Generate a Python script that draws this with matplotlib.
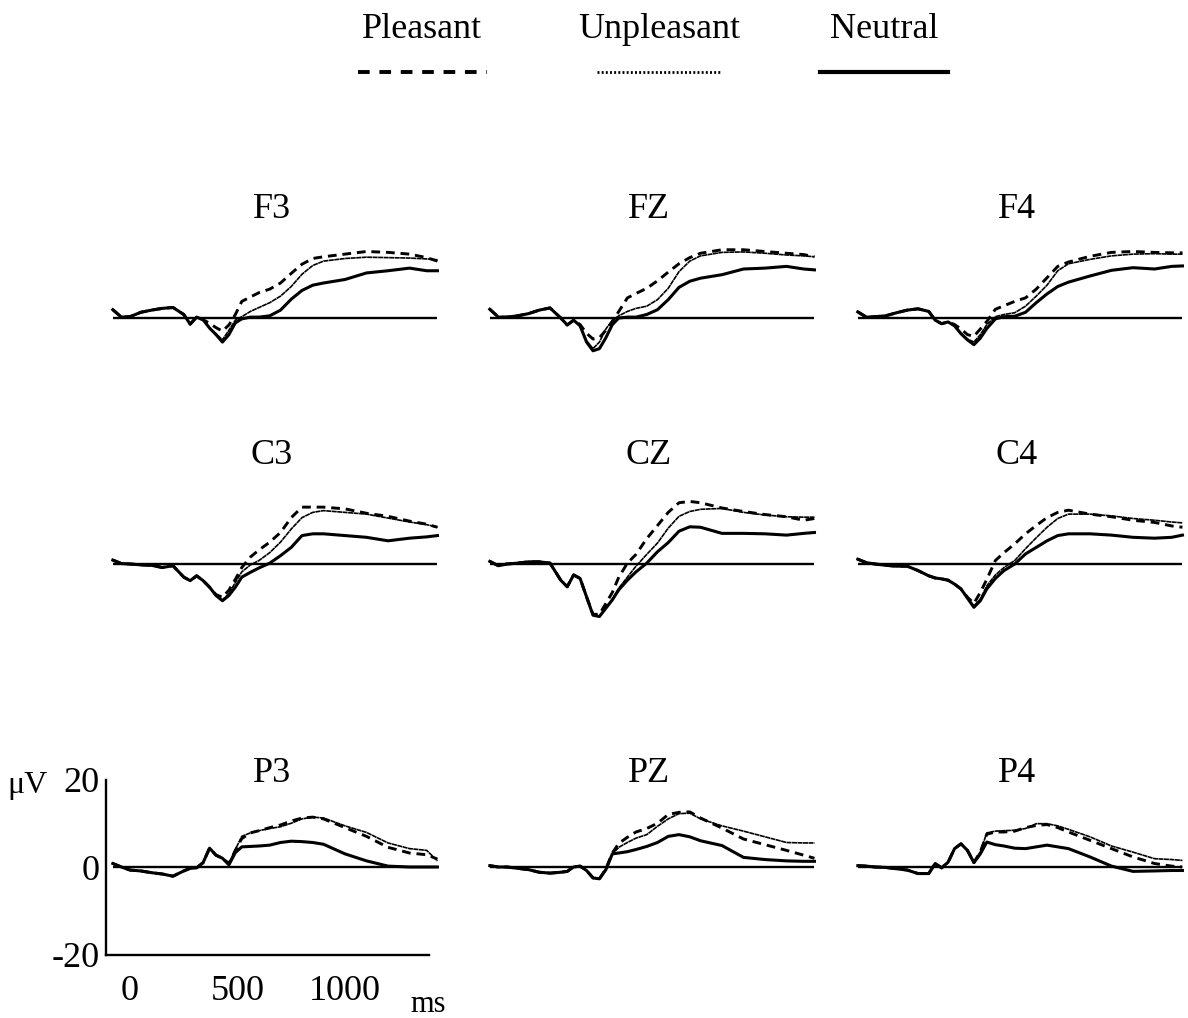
import numpy as np
import matplotlib.pyplot as plt
from matplotlib.lines import Line2D

plt.rcParams['font.family'] = ['Liberation Serif', 'DejaVu Serif']

W, H = 1188, 1018

# sample times (ms) shared by every trace
times = [-80, -40, 0, 50, 100, 150, 200, 250, 280, 310, 340, 370, 400, 430, 460, 490,
         520, 560, 600, 650, 700, 750, 800, 850, 900, 1000, 1100, 1200, 1300, 1380, 1430]

# amplitudes in microvolts
f3_pl = [1.9, 0.2, 0.3, 1.3, 1.8, 2.2, 2.4, 0.8, -1.4, 0.2, -0.4, -1.2, -2.2, -3.0, -1.6, 0.8,
         3.8, 4.8, 5.8, 6.6, 8.0, 10.2, 12.3, 13.6, 14.0, 14.6, 15.2, 15.0, 14.6, 13.8, 13.0]
f3_un = [1.9, 0.2, 0.3, 1.3, 1.8, 2.2, 2.4, 0.8, -1.4, 0.2, -0.4, -2.3, -3.6, -5.0, -2.8, -0.5,
         0.3, 1.5, 2.4, 3.5, 5.0, 7.2, 10.0, 12.0, 13.0, 13.6, 13.9, 13.8, 13.7, 13.5, 13.3]
f3_ne = [1.9, 0.2, 0.3, 1.3, 1.8, 2.2, 2.4, 0.8, -1.4, 0.2, -0.4, -2.3, -3.8, -5.5, -3.8, -1.1,
         -0.2, 0.2, 0.2, 0.5, 1.8, 4.3, 6.3, 7.5, 8.0, 8.8, 10.3, 10.8, 11.4, 10.8, 10.8]

fz_pl = [2.0, 0.2, 0.2, 0.5, 1.0, 1.8, 2.3, 0.0, -1.6, -0.5, -1.5, -3.5, -4.8, -4.5, -2.8, -0.8,
         1.5, 4.6, 5.6, 6.8, 8.5, 10.5, 12.4, 13.8, 14.8, 15.6, 15.6, 15.2, 14.8, 14.5, 14.0]
fz_un = [2.0, 0.2, 0.2, 0.5, 1.0, 1.8, 2.3, 0.0, -1.6, -0.5, -1.8, -5.2, -7.0, -5.5, -2.5, -0.5,
         0.5, 1.5, 2.2, 2.7, 4.2, 6.8, 10.6, 13.0, 14.2, 15.0, 15.1, 14.8, 14.4, 14.2, 14.0]
fz_ne = [2.0, 0.2, 0.2, 0.5, 1.0, 1.8, 2.3, 0.0, -1.6, -0.5, -1.8, -5.5, -7.5, -7.0, -4.5, -1.5,
         0.0, 0.2, 0.2, 0.8, 1.9, 4.2, 7.0, 8.4, 9.1, 9.9, 11.2, 11.4, 11.8, 11.2, 11.0]

f4_pl = [1.4, 0.2, 0.3, 0.5, 1.2, 1.8, 2.1, 1.5, -0.5, -1.3, -0.9, -1.5, -2.5, -3.8, -4.2, -2.5,
         -0.8, 2.0, 2.8, 3.8, 4.6, 6.6, 9.2, 11.8, 12.8, 14.1, 15.0, 15.2, 15.0, 14.9, 14.9]
f4_un = [1.4, 0.2, 0.3, 0.5, 1.2, 1.8, 2.1, 1.5, -0.5, -1.3, -0.9, -1.8, -3.4, -4.8, -5.5, -3.8,
         -1.5, 0.3, 0.8, 1.2, 2.7, 5.0, 7.5, 10.8, 12.4, 13.4, 14.2, 14.6, 14.7, 14.6, 14.6]
f4_ne = [1.4, 0.2, 0.3, 0.5, 1.2, 1.8, 2.1, 1.5, -0.5, -1.3, -0.9, -1.8, -3.6, -5.0, -6.1, -4.6,
         -2.4, -0.2, 0.3, 0.4, 1.3, 3.5, 5.5, 7.2, 8.2, 9.6, 10.9, 11.5, 11.2, 11.8, 11.9]

c3_pl = [0.9, 0.1, 0.0, -0.2, -0.3, -0.8, -0.4, -3.0, -3.8, -2.7, -3.8, -5.3, -7.0, -7.6, -6.0, -3.5,
         -0.8, 1.6, 3.2, 5.0, 7.2, 10.6, 13.0, 13.0, 13.0, 12.6, 11.6, 10.9, 9.8, 9.1, 8.4]
c3_un = [0.9, 0.1, 0.0, -0.2, -0.3, -0.8, -0.4, -3.0, -3.8, -2.7, -3.8, -5.3, -7.2, -8.2, -6.8, -4.2,
         -1.8, -0.2, 0.8, 2.6, 5.0, 8.0, 10.6, 11.8, 12.2, 11.8, 11.4, 10.5, 9.6, 9.0, 8.4]
c3_ne = [0.9, 0.1, 0.0, -0.2, -0.3, -0.8, -0.4, -3.0, -3.8, -2.7, -3.8, -5.3, -7.2, -8.4, -7.2, -5.3,
         -3.0, -1.9, -0.9, 0.2, 1.9, 3.8, 6.5, 6.9, 6.9, 6.5, 6.1, 5.3, 5.9, 6.2, 6.5]

cz_pl = [0.6, -0.4, 0.0, 0.2, 0.5, 0.5, 0.2, -3.7, -5.2, -2.5, -3.3, -7.5, -11.5, -11.5, -9.0, -6.5,
         -3.0, 0.2, 2.2, 5.8, 8.8, 11.8, 14.0, 14.3, 14.0, 12.8, 12.0, 11.3, 10.8, 10.0, 10.4]
cz_un = [0.6, -0.4, 0.0, 0.2, 0.5, 0.5, 0.2, -3.7, -5.2, -2.5, -3.3, -7.5, -11.7, -12.0, -10.0, -8.0,
         -5.5, -3.0, -0.5, 2.2, 4.8, 8.2, 10.9, 12.0, 12.5, 12.7, 11.8, 11.2, 10.8, 10.7, 10.7]
cz_ne = [0.6, -0.4, 0.0, 0.2, 0.5, 0.5, 0.2, -3.7, -5.2, -2.5, -3.3, -7.5, -11.7, -12.0, -10.1, -8.2,
         -5.9, -3.7, -1.8, 0.2, 2.8, 4.9, 7.5, 8.5, 8.4, 7.0, 7.0, 6.9, 6.6, 7.0, 7.2]

c4_pl = [1.1, 0.3, 0.0, -0.3, -0.5, -0.5, -1.5, -2.7, -3.2, -3.4, -3.7, -4.6, -5.7, -7.6, -9.0, -6.5,
         -3.5, 0.8, 2.6, 4.6, 6.9, 8.8, 10.6, 11.8, 12.3, 11.4, 10.8, 10.0, 9.5, 8.7, 8.4]
c4_un = [1.1, 0.3, 0.0, -0.3, -0.5, -0.5, -1.5, -2.7, -3.2, -3.4, -3.7, -4.6, -5.7, -7.8, -9.6, -8.0,
         -5.0, -2.5, -0.8, 0.8, 3.5, 6.0, 8.4, 10.4, 11.4, 11.4, 11.0, 10.4, 10.0, 9.6, 9.4]
c4_ne = [1.1, 0.3, 0.0, -0.3, -0.5, -0.5, -1.5, -2.7, -3.2, -3.4, -3.7, -4.6, -5.7, -7.8, -9.9, -8.4,
         -5.7, -3.3, -1.5, 0.0, 2.3, 3.8, 5.3, 6.5, 6.9, 6.9, 6.6, 6.1, 5.9, 6.1, 6.6]

p3_pl = [0.8, 0.0, -0.7, -0.9, -1.3, -1.6, -2.1, -0.9, -0.3, -0.2, 1.0, 4.3, 2.7, 2.0, 0.8, 3.8,
         6.5, 7.8, 8.3, 9.0, 9.6, 10.5, 11.2, 11.4, 11.0, 9.0, 7.0, 4.5, 3.2, 2.8, 1.8]
p3_un = [0.8, 0.0, -0.7, -0.9, -1.3, -1.6, -2.1, -0.9, -0.3, -0.2, 1.0, 4.3, 2.7, 2.0, 0.8, 4.0,
         7.0, 7.8, 8.3, 8.8, 9.2, 10.0, 11.0, 11.4, 11.2, 9.4, 7.9, 5.5, 4.2, 3.8, 1.4]
p3_ne = [0.8, 0.0, -0.7, -0.9, -1.3, -1.6, -2.1, -0.9, -0.3, -0.2, 1.0, 4.3, 2.7, 2.0, 0.5, 3.3,
         4.6, 4.7, 4.8, 5.0, 5.6, 5.9, 5.8, 5.6, 5.2, 3.0, 1.4, 0.2, 0.0, 0.0, 0.0]

pz_pl = [0.3, 0.0, 0.0, -0.3, -0.6, -1.2, -1.4, -1.2, -1.0, 0.0, 0.2, -0.8, -2.5, -2.7, -0.4, 3.2,
         5.4, 6.8, 8.0, 8.8, 10.0, 12.0, 12.5, 12.6, 11.2, 8.9, 6.4, 5.1, 3.8, 2.7, 2.0]
pz_un = [0.3, 0.0, 0.0, -0.3, -0.6, -1.2, -1.4, -1.2, -1.0, 0.0, 0.2, -0.8, -2.5, -2.7, -0.4, 3.0,
         4.5, 5.6, 6.6, 7.4, 9.3, 11.0, 12.2, 12.3, 11.0, 9.4, 8.2, 6.9, 5.6, 5.5, 5.5]
pz_ne = [0.3, 0.0, 0.0, -0.3, -0.6, -1.2, -1.4, -1.2, -1.0, 0.0, 0.2, -0.8, -2.5, -2.7, -0.6, 3.0,
         3.2, 3.5, 4.0, 4.7, 5.6, 7.0, 7.4, 6.9, 6.0, 4.9, 2.2, 1.7, 1.4, 1.3, 1.3]

p4_pl = [0.3, 0.2, 0.0, -0.1, -0.4, -0.7, -1.5, -1.5, 0.8, -0.2, 1.1, 4.2, 5.3, 3.8, 1.0, 3.5,
         7.5, 8.0, 8.0, 8.2, 9.0, 9.5, 9.7, 9.0, 8.0, 6.1, 4.2, 2.3, 0.8, 0.2, 0.0]
p4_un = [0.3, 0.2, 0.0, -0.1, -0.4, -0.7, -1.5, -1.5, 0.8, -0.2, 1.1, 4.2, 5.3, 3.8, 1.0, 3.5,
         7.8, 8.2, 8.3, 8.4, 8.8, 9.9, 9.9, 9.4, 8.6, 6.9, 4.8, 3.4, 1.9, 1.7, 1.5]
p4_ne = [0.3, 0.2, 0.0, -0.1, -0.4, -0.7, -1.5, -1.5, 0.8, -0.2, 1.1, 4.2, 5.3, 3.8, 1.0, 3.0,
         5.7, 5.1, 4.8, 4.3, 4.2, 4.6, 5.0, 4.6, 4.2, 2.3, 0.2, -1.0, -0.9, -0.8, -0.8]

panels = [
    ["F3", "FZ", "F4"],
    ["C3", "CZ", "C4"],
    ["P3", "PZ", "P4"],
]
traces = {
    "F3": (f3_pl, f3_un, f3_ne), "FZ": (fz_pl, fz_un, fz_ne), "F4": (f4_pl, f4_un, f4_ne),
    "C3": (c3_pl, c3_un, c3_ne), "CZ": (cz_pl, cz_un, cz_ne), "C4": (c4_pl, c4_un, c4_ne),
    "P3": (p3_pl, p3_un, p3_ne), "PZ": (pz_pl, pz_un, pz_ne), "P4": (p4_pl, p4_un, p4_ne),
}
conditions = ["Pleasant", "Unpleasant", "Neutral"]
y_ticks = [-20, 0, 20]
x_ticks = [0, 500, 1000]

# line looks for the three conditions
styles = [
    dict(color="black", lw=2.1, linestyle=(0, (3, 2))),
    dict(color="black", lw=1.2, linestyle=(0, (3, 0.3))),
    dict(color="black", lw=2.2, linestyle="-"),
]

# layout in pixels
PX_PER_MS = 0.215
PX_PER_UV = 4.375
XLIM = (-110, 1440)
YLIM = (-21, 21)
col_x0 = [130, 507, 875]     # pixel x of t = 0 in each column
row_y0 = [318, 564, 867]     # pixel y of 0 uV in each row
title_y = [210, 455, 774]

fig = plt.figure(figsize=(W / 100, H / 100), dpi=100)


def add_px_axes(left, top, width, height):
    return fig.add_axes([left / W, 1 - (top + height) / H, width / W, height / H])


t = np.array(times)
for r, row in enumerate(panels):
    for c, name in enumerate(row):
        left = col_x0[c] + XLIM[0] * PX_PER_MS
        top = row_y0[r] - YLIM[1] * PX_PER_UV
        ax = add_px_axes(left, top, (XLIM[1] - XLIM[0]) * PX_PER_MS,
                         (YLIM[1] - YLIM[0]) * PX_PER_UV)
        ax.set_xlim(*XLIM)
        ax.set_ylim(*YLIM)
        ax.patch.set_visible(False)

        # zero baseline
        ax.plot(t[[0, -1]], [0, 0], color="black", lw=1.7, solid_capstyle="butt")
        for vals, st in zip(traces[name], styles):
            ax.plot(t, vals, **st)

        for s in ax.spines.values():
            s.set_visible(False)
        ax.set_xticks([])
        ax.set_yticks([])

        fig.text((col_x0[c] + 660 * PX_PER_MS) / W, 1 - title_y[r] / H, name,
                 ha="center", va="center", fontsize=26)

        if r == 2 and c == 0:
            ax.spines["left"].set_visible(True)
            ax.spines["bottom"].set_visible(True)
            ax.spines["left"].set_linewidth(1.7)
            ax.spines["bottom"].set_linewidth(1.7)
            ax.spines["left"].set_bounds(-20, 20)
            ax.spines["bottom"].set_position(("data", -20))
            ax.spines["bottom"].set_bounds(XLIM[0], 1390)
            ax.set_yticks(y_ticks)
            ax.set_yticklabels([str(v) for v in y_ticks])
            ax.set_xticks(x_ticks)
            ax.set_xticklabels([str(v) for v in x_ticks])
            ax.tick_params(axis="y", length=0, pad=5, labelsize=26)
            ax.tick_params(axis="x", length=0, pad=15, labelsize=26)

fig.text(28 / W, 1 - 785 / H, "\u03bcV", ha="center", va="center", fontsize=23)
fig.text(428 / W, 1 - 1004 / H, "ms", ha="center", va="center", fontsize=22)

# legend across the top
leg_x = [(358, 487), (597, 722), (820, 948)]
leg_styles = [
    dict(color="black", lw=2.8, linestyle=(0, (3, 2.5))),
    dict(color="black", lw=2.0, linestyle=(0, (0.7, 0.8))),
    dict(color="black", lw=3.0, linestyle="-"),
]
for label, (x0, x1), st in zip(conditions, leg_x, leg_styles):
    fig.text((x0 + x1) / 2 / W, 1 - 29 / H, label, ha="center", va="center", fontsize=26)
    fig.add_artist(Line2D([x0 / W, x1 / W], [1 - 72 / H, 1 - 72 / H],
                          transform=fig.transFigure, **st))

fig.savefig("out.png", dpi=100)
